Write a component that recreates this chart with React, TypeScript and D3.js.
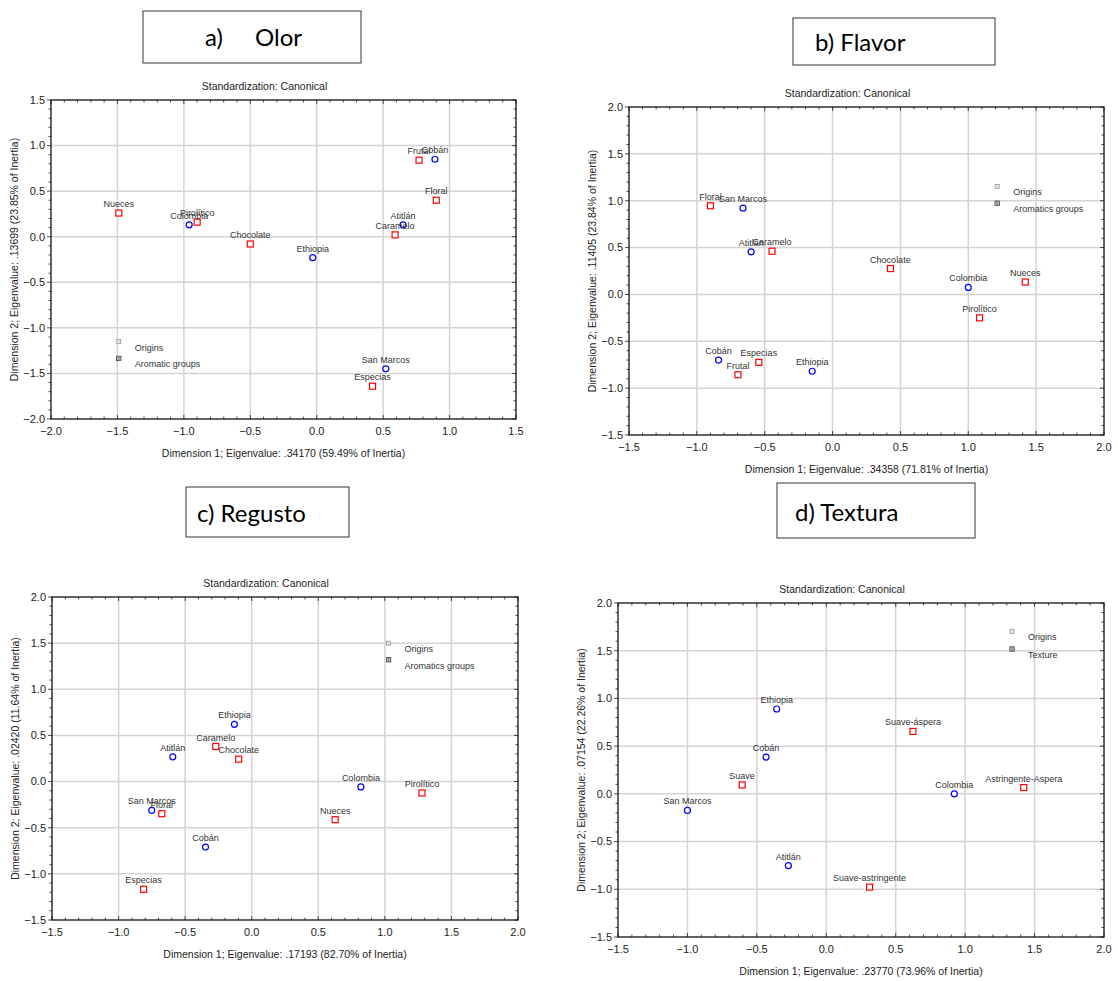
import React from "react";
import * as d3 from "d3";

// ---------- DATA ----------
// a) Olor
const olorOrigins = ["Colombia", "Ethiopia", "Atitlán", "Cobán", "San Marcos"];
const olorOriginsX = [-0.96, -0.03, 0.65, 0.89, 0.52];
const olorOriginsY = [0.13, -0.23, 0.13, 0.85, -1.45];
const olorGroups = ["Nueces", "Pirolítico", "Chocolate", "Caramelo", "Frutal", "Floral", "Especias"];
const olorGroupsX = [-1.49, -0.9, -0.5, 0.59, 0.77, 0.9, 0.42];
const olorGroupsY = [0.26, 0.16, -0.08, 0.02, 0.84, 0.4, -1.64];

// b) Flavor
const flavorOrigins = ["San Marcos", "Atitlán", "Colombia", "Cobán", "Ethiopia"];
const flavorOriginsX = [-0.66, -0.6, 1.0, -0.84, -0.15];
const flavorOriginsY = [0.92, 0.455, 0.075, -0.7, -0.82];
const flavorGroups = ["Floral", "Caramelo", "Chocolate", "Nueces", "Pirolítico", "Frutal", "Especias"];
const flavorGroupsX = [-0.9, -0.446, 0.426, 1.42, 1.083, -0.697, -0.543];
const flavorGroupsY = [0.946, 0.461, 0.276, 0.132, -0.25, -0.857, -0.725];

// c) Regusto
const regustoOrigins = ["Ethiopia", "Atitlán", "Colombia", "San Marcos", "Cobán"];
const regustoOriginsX = [-0.13, -0.593, 0.82, -0.751, -0.347];
const regustoOriginsY = [0.62, 0.268, -0.058, -0.312, -0.71];
const regustoGroups = ["Caramelo", "Chocolate", "Pirolítico", "Nueces", "Floral", "Especias"];
const regustoGroupsX = [-0.27, -0.098, 1.279, 0.627, -0.675, -0.812];
const regustoGroupsY = [0.38, 0.243, -0.123, -0.413, -0.348, -1.167];

// d) Textura
const texturaOrigins = ["Ethiopia", "Cobán", "San Marcos", "Colombia", "Atitlán"];
const texturaOriginsX = [-0.357, -0.434, -1.0, 0.922, -0.273];
const texturaOriginsY = [0.889, 0.385, -0.174, 0.0, -0.753];
const texturaGroups = ["Suave-áspera", "Suave", "Astringente-Aspera", "Suave-astringente"];
const texturaGroupsX = [0.624, -0.606, 1.422, 0.312];
const texturaGroupsY = [0.654, 0.094, 0.066, -0.977];

// axes ticks
const ticksA = [-2.0, -1.5, -1.0, -0.5, 0.0, 0.5, 1.0, 1.5];
const ticksB = [-1.5, -1.0, -0.5, 0.0, 0.5, 1.0, 1.5, 2.0];

// legend entries (data coords of legend markers)
const legendLabelsA = ["Origins", "Aromatic groups"];
const legendLabelsB = ["Origins", "Aromatics groups"];
const legendLabelsC = ["Origins", "Aromatics groups"];
const legendLabelsD = ["Origins", "Texture"];
const legendXA = -1.49, legendYA = [-1.15, -1.335];
const legendXB = 1.213, legendYB = [1.152, 0.973];
const legendXC = 1.028, legendYC = [1.5, 1.32];
const legendXD = 1.338, legendYD = [1.703, 1.518];

const xTitles = [
  "Dimension 1; Eigenvalue: .34170 (59.49% of Inertia)",
  "Dimension 1; Eigenvalue: .34358 (71.81% of Inertia)",
  "Dimension 1; Eigenvalue: .17193 (82.70% of Inertia)",
  "Dimension 1; Eigenvalue: .23770 (73.96% of Inertia)",
];
const yTitles = [
  "Dimension 2; Eigenvalue: .13699 (23.85% of Inertia)",
  "Dimension 2; Eigenvalue: .11405 (23.84% of Inertia)",
  "Dimension 2; Eigenvalue: .02420 (11.64% of Inertia)",
  "Dimension 2; Eigenvalue: .07154 (22.26% of Inertia)",
];
const plotTitle = "Standardization: Canonical";

// ---------- LAYOUT ----------
const FONT = "'Liberation Sans', Arial, sans-serif";
const HFONT = "Lato, 'Open Sans', sans-serif";

type PanelCfg = {
  L: number; R: number; T: number; B: number;
  ticks: number[];
  originNames: string[]; originX: number[]; originY: number[];
  groupNames: string[]; groupX: number[]; groupY: number[];
  legendLabels: string[]; legendX: number; legendY: number[];
  xTitle: string; yTitle: string;
};

const panels: PanelCfg[] = [
  { L: 51, R: 516, T: 100, B: 419, ticks: ticksA,
    originNames: olorOrigins, originX: olorOriginsX, originY: olorOriginsY,
    groupNames: olorGroups, groupX: olorGroupsX, groupY: olorGroupsY,
    legendLabels: legendLabelsA, legendX: legendXA, legendY: legendYA,
    xTitle: xTitles[0], yTitle: yTitles[0] },
  { L: 629, R: 1104, T: 107, B: 435, ticks: ticksB,
    originNames: flavorOrigins, originX: flavorOriginsX, originY: flavorOriginsY,
    groupNames: flavorGroups, groupX: flavorGroupsX, groupY: flavorGroupsY,
    legendLabels: legendLabelsB, legendX: legendXB, legendY: legendYB,
    xTitle: xTitles[1], yTitle: yTitles[1] },
  { L: 52, R: 518, T: 597, B: 920, ticks: ticksB,
    originNames: regustoOrigins, originX: regustoOriginsX, originY: regustoOriginsY,
    groupNames: regustoGroups, groupX: regustoGroupsX, groupY: regustoGroupsY,
    legendLabels: legendLabelsC, legendX: legendXC, legendY: legendYC,
    xTitle: xTitles[2], yTitle: yTitles[2] },
  { L: 618, R: 1104, T: 603, B: 937, ticks: ticksB,
    originNames: texturaOrigins, originX: texturaOriginsX, originY: texturaOriginsY,
    groupNames: texturaGroups, groupX: texturaGroupsX, groupY: texturaGroupsY,
    legendLabels: legendLabelsD, legendX: legendXD, legendY: legendYD,
    xTitle: xTitles[3], yTitle: yTitles[3] },
];

const headers = [
  { x: 143, y: 11, w: 218, h: 52, parts: [{ t: "a)", x: 205 }, { t: "Olor", x: 255 }], base: 46 },
  { x: 793, y: 18, w: 202, h: 47, parts: [{ t: "b) Flavor", x: 815 }], base: 51 },
  { x: 186, y: 487, w: 163, h: 50, parts: [{ t: "c) Regusto", x: 197 }], base: 522 },
  { x: 777, y: 483, w: 198, h: 55, parts: [{ t: "d) Textura", x: 795 }], base: 521 },
];

function Panel({ c }: { c: PanelCfg }) {
  const d0 = c.ticks[0];
  const d1 = c.ticks[c.ticks.length - 1];
  const x = d3.scaleLinear().domain([d0, d1]).range([c.L, c.R]);
  const y = d3.scaleLinear().domain([d0, d1]).range([c.B, c.T]);
  const minor = d3.range(Math.round(d0 * 10), Math.round(d1 * 10) + 1).map((v) => v / 10);
  const fmt = d3.format(".1f");
  const cx = (c.L + c.R) / 2;
  const cy = (c.T + c.B) / 2;
  const sq = 6;
  return (
    <g>
      <rect x={c.L} y={c.T} width={c.R - c.L} height={c.B - c.T} fill="#fff" />
      {/* grid */}
      {c.ticks.slice(1, -1).map((t) => (
        <line key={"gx" + t} x1={x(t)} x2={x(t)} y1={c.T} y2={c.B} stroke="#d4d4d4" strokeWidth={1.5} />
      ))}
      {c.ticks.slice(1, -1).map((t) => (
        <line key={"gy" + t} y1={y(t)} y2={y(t)} x1={c.L} x2={c.R} stroke="#d4d4d4" strokeWidth={1.5} />
      ))}
      {/* minor ticks */}
      {minor.map((t) => {
        const major = c.ticks.some((m) => Math.abs(m - t) < 1e-6);
        const len = major ? 4 : 2.5;
        return (
          <g key={"mt" + t} stroke="#222" strokeWidth={0.8}>
            <line x1={c.L - len} x2={c.L} y1={y(t)} y2={y(t)} />
            <line x1={c.R - len} x2={c.R} y1={y(t)} y2={y(t)} />
            <line x1={x(t)} x2={x(t)} y1={c.B} y2={c.B - len} />
            <line x1={x(t)} x2={x(t)} y1={c.T} y2={c.T + len} />
          </g>
        );
      })}
      <rect x={c.L} y={c.T} width={c.R - c.L} height={c.B - c.T} fill="none" stroke="#111" strokeWidth={1.3} />
      {/* tick labels */}
      {c.ticks.map((t) => (
        <text key={"yl" + t} x={c.L - 6} y={y(t)} dy="0.35em" textAnchor="end" fontSize={11} fontFamily={FONT} fill="#222">
          {fmt(t)}
        </text>
      ))}
      {c.ticks.map((t) => (
        <text key={"xl" + t} x={x(t)} y={c.B + 16} textAnchor="middle" fontSize={11} fontFamily={FONT} fill="#222">
          {fmt(t)}
        </text>
      ))}
      {/* titles */}
      <text x={cx - 19} y={c.T - 10} textAnchor="middle" fontSize={10.5} fontFamily={FONT} fill="#222">
        {plotTitle}
      </text>
      <text x={cx} y={c.B + 38} textAnchor="middle" fontSize={10.5} fontFamily={FONT} fill="#222">
        {c.xTitle}
      </text>
      <text transform={`translate(${c.L - 33},${cy}) rotate(-90)`} textAnchor="middle" fontSize={10.5} fontFamily={FONT} fill="#222">
        {c.yTitle}
      </text>
      {/* legend */}
      {c.legendLabels.map((lab, i) => (
        <g key={"lg" + i}>
          {i === 0 ? (
            <rect x={x(c.legendX) - 2} y={y(c.legendY[i]) - 2} width={4} height={4} fill="#e6e6e6" stroke="#999" strokeWidth={0.8} />
          ) : (
            <g>
              <rect x={x(c.legendX) - 2.2} y={y(c.legendY[i]) - 2.2} width={4.4} height={4.4} fill="#bbb" stroke="#444" strokeWidth={0.8} />
              <line x1={x(c.legendX)} x2={x(c.legendX)} y1={y(c.legendY[i]) - 2.2} y2={y(c.legendY[i]) + 2.2} stroke="#555" strokeWidth={0.6} />
            </g>
          )}
          <text x={x(c.legendX) + 16} y={y(c.legendY[i]) + 9} fontSize={9} fontFamily={FONT} fill="#333">
            {lab}
          </text>
        </g>
      ))}
      {/* group points (squares) */}
      {c.groupNames.map((n, i) => (
        <g key={"g" + n}>
          <rect x={x(c.groupX[i]) - sq / 2} y={y(c.groupY[i]) - sq / 2} width={sq} height={sq} fill="#fff" stroke="#ff0000" strokeWidth={1.2} />
        </g>
      ))}
      {/* origin points (circles) */}
      {c.originNames.map((n, i) => (
        <circle key={"o" + n} cx={x(c.originX[i])} cy={y(c.originY[i])} r={3} fill="#fff" stroke="#0000ff" strokeWidth={1.2} />
      ))}
      {/* labels */}
      {c.groupNames.map((n, i) => (
        <text key={"gl" + n} x={x(c.groupX[i])} y={y(c.groupY[i]) - 6} textAnchor="middle" fontSize={9} fontFamily={FONT} fill="#333">
          {n}
        </text>
      ))}
      {c.originNames.map((n, i) => (
        <text key={"ol" + n} x={x(c.originX[i])} y={y(c.originY[i]) - 6} textAnchor="middle" fontSize={9} fontFamily={FONT} fill="#333">
          {n}
        </text>
      ))}
    </g>
  );
}

export default function App() {
  return (
    <svg
      width={1118}
      height={981}
      style={{ position: "absolute", left: 0, top: 0, background: "#fff" }}
    >
      <rect x={0} y={0} width={1118} height={981} fill="#fff" />
      {panels.map((p, i) => (
        <Panel key={i} c={p} />
      ))}
      {headers.map((h, i) => (
        <g key={"h" + i}>
          <rect x={h.x} y={h.y} width={h.w} height={h.h} fill="#fff" stroke="#333" strokeWidth={1} />
          {h.parts.map((p, j) => (
            <text key={j} x={p.x} y={h.base} fontSize={24} fontFamily={HFONT} fill="#000">
              {p.t}
            </text>
          ))}
        </g>
      ))}
    </svg>
  );
}
